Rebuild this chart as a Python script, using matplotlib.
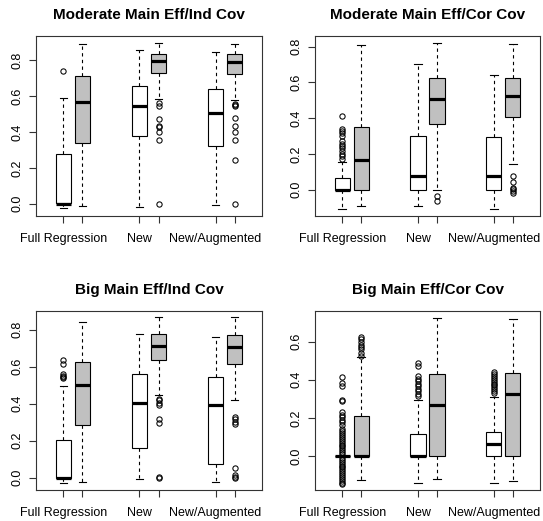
import matplotlib
matplotlib.use('Agg')
import matplotlib.pyplot as plt

plt.rcParams['font.family'] = ['Liberation Sans', 'DejaVu Sans']

titles = ['Moderate Main Eff/Ind Cov', 'Moderate Main Eff/Cor Cov',
          'Big Main Eff/Ind Cov', 'Big Main Eff/Cor Cov']
tick_names = ['Full Regression', '', 'New', '', 'New/Augmented', '']
positions = [1, 1.5, 3, 3.5, 5, 5.5]
fills = ['white', '#c0c0c0', 'white', '#c0c0c0', 'white', '#c0c0c0']

# box statistics, one row per panel, one value per box
whislo = [[-0.026, -0.011, -0.018, 0.581, -0.009, 0.575],
          [-0.106, -0.091, -0.091, 0.0, -0.106, 0.141],
          [-0.031, -0.022, -0.005, 0.449, -0.025, 0.422],
          [0.0, -0.125, -0.139, -0.118, -0.143, -0.129]]
q1 = [[0.003, 0.337, 0.376, 0.728, 0.319, 0.724],
      [-0.003, 0.0, 0.0, 0.366, 0.0, 0.405],
      [0.0, 0.284, 0.158, 0.638, 0.074, 0.615],
      [0.0, 0.0, 0.0, 0.0, 0.0, 0.0]]
med = [[0.001, 0.568, 0.544, 0.794, 0.503, 0.787],
       [0.0, 0.167, 0.074, 0.507, 0.074, 0.525],
       [0.0, 0.503, 0.404, 0.714, 0.395, 0.707],
       [0.0, 0.0, 0.0, 0.266, 0.064, 0.327]]
q3 = [[0.278, 0.713, 0.656, 0.831, 0.638, 0.831],
      [0.065, 0.349, 0.303, 0.622, 0.295, 0.622],
      [0.201, 0.624, 0.559, 0.775, 0.543, 0.771],
      [0.0, 0.209, 0.118, 0.430, 0.125, 0.435]]
whishi = [[0.590, 0.890, 0.853, 0.894, 0.844, 0.888],
          [0.155, 0.811, 0.705, 0.819, 0.642, 0.813],
          [0.494, 0.845, 0.777, 0.867, 0.759, 0.867],
          [0.0, 0.517, 0.296, 0.725, 0.310, 0.717]]
fliers = [
    [[0.741], [], [],
     [0.558, 0.546, 0.474, 0.435, 0.428, 0.398, 0.356, 0.0], [],
     [0.553, 0.548, 0.546, 0.476, 0.435, 0.398, 0.356, 0.243, 0.0]],
    [[0.412, 0.342, 0.33, 0.318, 0.30, 0.27, 0.258, 0.245, 0.232, 0.215,
      0.202, 0.19, 0.17], [], [], [-0.037, -0.065], [],
     [0.078, 0.041, 0.011, 0.002, -0.006, -0.017]],
    [[0.635, 0.615, 0.561, 0.552, 0.545, 0.539], [], [],
     [0.428, 0.418, 0.404, 0.392, 0.318, 0.297, 0.005, 0.0], [],
     [0.329, 0.315, 0.302, 0.291, 0.052, 0.013, 0.005, 0.0]],
    [[0.414, 0.383, 0.369, 0.296, 0.29, 0.23, 0.217, 0.205, 0.191, 0.179,
      0.165, 0.14, 0.13, 0.12, 0.11, 0.10, 0.09, 0.08, 0.07, 0.06, 0.05,
      0.04, 0.03, 0.02, 0.01, -0.01, -0.02, -0.03, -0.04, -0.05, -0.06,
      -0.07, -0.08, -0.09, -0.10, -0.11, -0.12, -0.13, -0.14, -0.148],
     [0.623, 0.612, 0.60, 0.583, 0.57, 0.56, 0.539, 0.525],
     [0.487, 0.473, 0.417, 0.405, 0.391, 0.379, 0.365, 0.351, 0.339,
      0.327, 0.313], [],
     [0.44, 0.43, 0.42, 0.41, 0.40, 0.39, 0.38, 0.37, 0.36, 0.35, 0.34,
      0.33], []],
]
ylims = [(-0.068, 0.935), (-0.147, 0.861), (-0.067, 0.902), (-0.178, 0.760)]
yticks = [[0.0, 0.2, 0.4, 0.6, 0.8], [0.0, 0.2, 0.4, 0.6, 0.8],
          [0.0, 0.2, 0.4, 0.6, 0.8], [0.0, 0.2, 0.4, 0.6]]

fig = plt.figure(figsize=(5.43, 5.21), dpi=100)
rects = [[0.0663, 0.5854, 0.4162, 0.3461],
         [0.5801, 0.5854, 0.4144, 0.3461],
         [0.0663, 0.0595, 0.4162, 0.3436],
         [0.5801, 0.0595, 0.4144, 0.3436]]

for i in range(4):
    ax = fig.add_axes(rects[i])
    stats = []
    for j in range(6):
        stats.append(dict(med=med[i][j], q1=q1[i][j], q3=q3[i][j],
                          whislo=whislo[i][j], whishi=whishi[i][j],
                          fliers=fliers[i][j]))
    bp = ax.bxp(stats, positions=positions, widths=0.4, capwidths=0.2,
                patch_artist=True,
                boxprops=dict(edgecolor='black', linewidth=0.8),
                medianprops=dict(color='black', linewidth=2.3,
                                 solid_capstyle='butt'),
                whiskerprops=dict(color='black', linewidth=0.8,
                                  linestyle=(0, (3, 3))),
                capprops=dict(color='black', linewidth=0.8),
                flierprops=dict(marker='o', markerfacecolor='none',
                                markeredgecolor='black', markersize=3.8,
                                markeredgewidth=0.75))
    for patch, c in zip(bp['boxes'], fills):
        patch.set_facecolor(c)

    ax.set_xlim(0.28, 6.22)
    ax.set_ylim(*ylims[i])
    ax.set_xticks(positions)
    ax.set_xticklabels(tick_names, fontsize=9)
    ax.set_yticks(yticks[i])
    ax.set_yticklabels([f'{v:.1f}' for v in yticks[i]], fontsize=9,
                       rotation=90, va='center')
    ax.tick_params(direction='out', length=5, width=0.8, color='#333333')
    ax.tick_params(axis='x', pad=7.5)
    ax.tick_params(axis='y', pad=4)
    for s in ax.spines.values():
        s.set_linewidth(0.8)
        s.set_color('#333333')
    ax.set_title(titles[i], fontsize=11, fontweight='bold', pad=12)

fig.savefig('out.png', dpi=100)
